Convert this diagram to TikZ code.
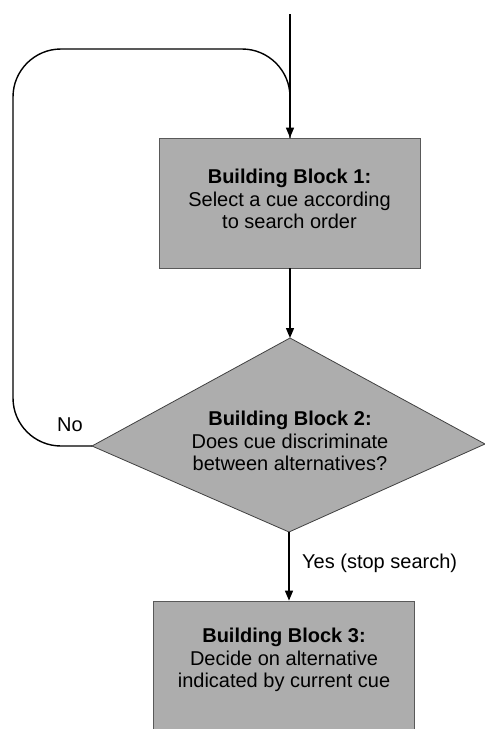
\documentclass[tikz,border=0pt]{standalone}
\usepackage{fontspec}
\setmainfont{Liberation Sans}
\usetikzlibrary{arrows.meta}
\definecolor{blockfill}{rgb}{0.68,0.68,0.68}
\begin{document}
\begin{tikzpicture}[x=1pt,y=-1pt,
  blockbox/.style={rectangle, fill=blockfill, draw=black!65, line width=0.8pt,
    minimum width=261pt, inner sep=0pt, align=center,
    font=\fontsize{20}{22.5}\selectfont},
  shapeline/.style={fill=blockfill, draw=black!75, line width=0.8pt},
  txt/.style={align=center, font=\fontsize{20}{22.5}\selectfont, inner sep=0pt},
  conn/.style={line width=1.4pt, black},
  arr/.style={conn, -{Triangle[length=10pt,width=8pt]}},
  lbl/.style={font=\fontsize{20}{24}\selectfont, inner sep=0pt}
]
\useasboundingbox (0,0) rectangle (485,729);
\clip (0,0) rectangle (485,729);

% Building Block 1
\node[blockbox, minimum height=130pt] (b1) at (289.5,203) {};
\node[txt] (t1) at (289.5,199) {\textbf{Building Block 1:}\\Select a cue according\\to search order};

% Building Block 2 (decision)
\coordinate (dT) at (290,338);
\coordinate (dR) at (485,444);
\coordinate (dB) at (289,532);
\coordinate (dL) at (92,446);
\path[shapeline] (dT) -- (dR) -- (dB) -- (dL) -- cycle;
\node[txt] (t2) at (290,441) {\textbf{Building Block 2:}\\Does cue discriminate\\between alternatives?};

% Building Block 3
\node[blockbox, minimum height=130pt] (b3) at (283.5,666) {};
\node[txt] (t3) at (284,660) {\textbf{Building Block 3:}\\Decide on alternative\\indicated by current cue};

% connectors
\coordinate (start) at (290,14);
\draw[arr] (start) -- (b1.north -| start);
\draw[arr] (b1.south -| dT) -- (dT);
\draw[arr] (dB) -- (dB |- b3.north);
\draw[conn, rounded corners=48pt] (dL) -- (13,446) -- (13,49) -- (290,49) -- (290,138);

% labels
\node[lbl] (no) at (70,425) {No};
\node[lbl, anchor=west] (yes) at (302,563) {Yes (stop search)};
\end{tikzpicture}
\end{document}
